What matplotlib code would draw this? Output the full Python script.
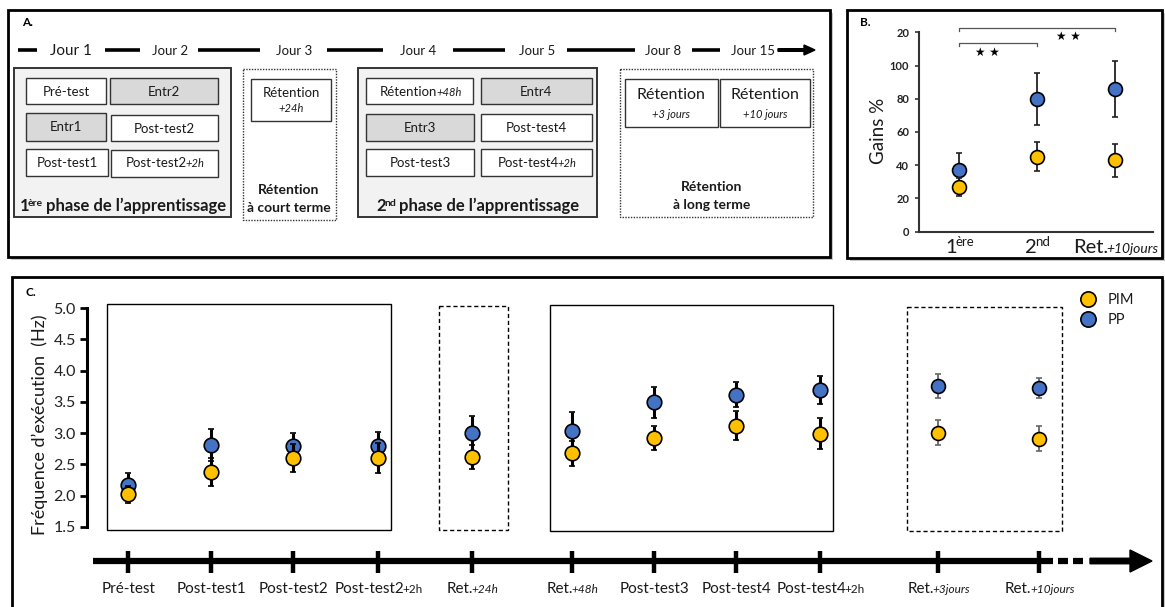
import matplotlib
matplotlib.use("Agg")
import matplotlib.pyplot as plt
from matplotlib.patches import Rectangle, FancyArrow

plt.rcParams['font.family'] = ['Lato', 'DejaVu Sans']

W, H = 1165, 607

# --- panel C data (fréquence d'exécution, Hz) ---
c_labels = ["Pré-test", "Post-test1", "Post-test2", "Post-test2", "Ret.", "Ret.",
            "Post-test3", "Post-test4", "Post-test4", "Ret.", "Ret."]
c_suffix = ["", "", "", "+2h", "+24h", "+48h", "", "", "+2h", "+3jours", "+10jours"]
pim_freq = [2.02, 2.38, 2.60, 2.61, 2.62, 2.68, 2.92, 3.12, 2.99, 3.01, 2.91]
pim_err = [0.13, 0.23, 0.22, 0.24, 0.19, 0.20, 0.19, 0.23, 0.25, 0.20, 0.20]
pp_freq = [2.17, 2.81, 2.80, 2.80, 3.00, 3.04, 3.49, 3.61, 3.69, 3.75, 3.72]
pp_err = [0.20, 0.25, 0.20, 0.22, 0.28, 0.29, 0.24, 0.20, 0.23, 0.19, 0.16]

# --- panel B data (gains %) ---
b_labels = ["1", "2", "Ret."]
b_sup = ["ère", "nd", ""]
b_sub = ["", "", "+10jours"]
b_pim = [27, 45, 43]
b_pim_err = [5.5, 8.7, 9.8]
b_pp = [37, 80, 86]
b_pp_err = [10.5, 15.6, 17.0]
b_yticklabels = ["0", "20", "40", "60", "80", "100", "20"]

# --- panel A text ---
jours = ["Jour 1", "Jour 2", "Jour 3", "Jour 4", "Jour 5", "Jour 8", "Jour 15"]

BLUE = "#4472C4"
YELLOW = "#FFC000"
TXT = "#1a1a1a"

fig = plt.figure(figsize=(W / 100, H / 100), dpi=100)
bg = fig.add_axes([0, 0, 1, 1])
bg.set_xlim(0, W)
bg.set_ylim(H, 0)
bg.axis("off")
renderer = fig.canvas.get_renderer()


def rich(x, y, parts, ha="center", tight=1.5):
    # parts: (text, size, style, weight, rise)
    texts = []
    for s, size, style, weight, rise in parts:
        t = bg.text(0, y - rise, s, fontsize=size, style=style, weight=weight,
                    ha="left", va="baseline", color=TXT)
        texts.append(t)
    widths = [t.get_window_extent(renderer).width - tight for t in texts]
    x0 = x - sum(widths) / 2 if ha == "center" else x
    for t, w in zip(texts, widths):
        t.set_x(x0)
        x0 += w


def box(x0, y0, x1, y1, fc="white", ec="#333333", lw=1.0, ls="-", z=1):
    bg.add_patch(Rectangle((x0, y0), x1 - x0, y1 - y0, fc=fc, ec=ec, lw=lw, ls=ls, zorder=z))


def frame(x0, y0, x1, y1):
    bg.add_patch(Rectangle((x0 + 3, y0 + 3), x1 - x0, y1 - y0, fc="#c8c8c8", ec="none", zorder=0))
    box(x0, y0, x1, y1, fc="white", ec="black", lw=2.0, z=0.5)


def label(x, y, s, size=9.5, **kw):
    bg.text(x, y, s, fontsize=size, ha="center", va="center", color=TXT, **kw)


# ================= panel A =================
frame(8, 10, 830, 257)
bg.text(22, 22, "A.", fontsize=8.5, weight="bold", va="center")

jour_x = [71, 170, 294, 418, 537, 663, 753]
dashes = [(18, 37), (105, 140), (198, 260), (327, 383), (453, 505), (567, 635), (692, 720)]
for (a, b) in dashes:
    bg.plot([a, b], [50, 50], color="black", lw=2.6, solid_capstyle="butt", zorder=2)
bg.add_patch(FancyArrow(778, 50, 37, 0, width=2.6, head_width=10, head_length=11,
                        length_includes_head=True, color="black", zorder=2))
for i, (j, x) in enumerate(zip(jours, jour_x)):
    label(x, 51, j, size=11 if i == 0 else 9.5)

# phase 1
box(14, 68, 231, 217, fc="#f2f2f2", ec="#333333", lw=1.4)
GR = "#d9d9d9"
box(26, 78, 106, 104)
box(110, 78, 218, 104, fc=GR)
box(26, 113, 106, 141, fc=GR)
box(111, 115, 218, 141)
box(26, 149, 108, 176)
box(111, 150, 218, 177)
label(66, 92, "Pré-test")
label(164, 92, "Entr2")
label(66, 127, "Entr1")
label(164, 129, "Post-test2")
label(67, 163, "Post-test1")
rich(164, 167, [("Post-test2", 9.5, "normal", "normal", 0), ("+2h", 8, "italic", "normal", 0)])
rich(122, 211, [("1", 12, "normal", "bold", 0), ("ère", 7.5, "normal", "bold", 5),
                (" phase de l’apprentissage", 12, "normal", "bold", 0)])

# short term retention
box(243, 69, 336, 220, fc="white", ec="#333333", lw=1.0, ls=(0, (1, 1)))
box(251, 79, 331, 121)
label(291, 93, "Rétention")
label(291, 109, "+24h", size=8, style="italic")
label(289, 190, "Rétention", size=10, weight="bold")
label(289, 208, "à court terme", size=10, weight="bold")

# phase 2
box(358, 68, 597, 217, fc="#f2f2f2", ec="#333333", lw=1.4)
box(366, 78, 473, 104)
box(481, 78, 592, 104, fc=GR)
box(366, 114, 474, 141, fc=GR)
box(481, 114, 592, 141)
box(366, 149, 474, 176)
box(481, 149, 592, 176)
rich(420, 96, [("Rétention", 9.5, "normal", "normal", 0), ("+48h", 8, "italic", "normal", 0)])
label(536, 92, "Entr4")
label(420, 128, "Entr3")
label(536, 128, "Post-test4")
label(420, 163, "Post-test3")
rich(536, 167, [("Post-test4", 9.5, "normal", "normal", 0), ("+2h", 8, "italic", "normal", 0)])
rich(477, 211, [("2", 12, "normal", "bold", 0), ("nd", 7.5, "normal", "bold", 5),
                (" phase de l’apprentissage", 12, "normal", "bold", 0)])

# long term retention
box(620, 69, 813, 217, fc="white", ec="#333333", lw=1.0, ls=(0, (1, 1)))
box(625, 79, 718, 127)
box(720, 79, 810, 127)
label(671, 95, "Rétention", size=11.5)
label(671, 114, "+3 jours", size=8, style="italic")
label(765, 95, "Rétention", size=11.5)
label(765, 114, "+10 jours", size=8, style="italic")
label(712, 187, "Rétention", size=10, weight="bold")
label(712, 205, "à long terme", size=10, weight="bold")

# ================= panel B =================
frame(847, 10, 1162, 258)
bg.text(860, 22, "B.", fontsize=8.5, weight="bold", va="center")
bg.text(878, 131, "Gains %", fontsize=13.5, rotation=90, ha="center", va="center", color=TXT)

ax_b = fig.add_axes([919 / W, (H - 231.7) / H, (1153 - 919) / W, (231.7 - 32.3) / H])
ax_b.patch.set_visible(False)
ax_b.set_xlim(-0.51, 2.49)
ax_b.set_ylim(0, 120)
for s in ["top", "right"]:
    ax_b.spines[s].set_visible(False)
for s in ["left", "bottom"]:
    ax_b.spines[s].set_linewidth(1.5)
    ax_b.spines[s].set_color("#333333")
ax_b.set_xticks([])
ax_b.set_yticks(range(0, 121, 20))
ax_b.set_yticklabels(b_yticklabels, fontsize=8, weight="bold", color="#222222")
ax_b.tick_params(axis="y", length=3, width=1.2, color="#333333", pad=4)
bx = list(range(len(b_labels)))
ax_b.errorbar(bx, b_pp, yerr=b_pp_err, fmt="o", ms=10, mfc=BLUE, mec="black", mew=1.2,
              ecolor="#222222", elinewidth=1.3, capsize=2.5, capthick=1.3, zorder=3)
ax_b.errorbar(bx, b_pim, yerr=b_pim_err, fmt="o", ms=10, mfc=YELLOW, mec="black", mew=1.2,
              ecolor="#222222", elinewidth=1.3, capsize=2.5, capthick=1.3, zorder=4)
# significance brackets
ax_b.plot([0, 0, 1, 1], [111.5, 113.5, 113.5, 111.5], color="#555555", lw=0.9, clip_on=False)
ax_b.plot([0, 0, 2, 2], [120.5, 122.5, 122.5, 120.5], color="#555555", lw=0.9, clip_on=False)
ax_b.text(0.37, 108, "★ ★", fontsize=8.5, ha="center", va="center", family="DejaVu Sans")
ax_b.text(1.4, 117.5, "★ ★", fontsize=8.5, ha="center", va="center", family="DejaVu Sans")
for i, lab in enumerate(b_labels):
    px = 959 + i * 78
    parts = [(lab, 14.5, "normal", "normal", 0)]
    if b_sup[i]:
        parts.append((b_sup[i], 9.5, "normal", "normal", 7))
    if b_sub[i]:
        parts.append((b_sub[i], 10, "italic", "normal", 0))
    rich(px, 253, parts)

# ================= panel C =================
frame(12, 277, 1162, 612)
bg.text(25, 292, "C.", fontsize=8.5, weight="bold", va="center")
bg.text(40, 425, "Fréquence d’exécution  (Hz)", fontsize=13, rotation=90,
        ha="center", va="center", color=TXT)

box(107, 304, 391, 530, fc="none", ec="black", lw=1.0)
box(439, 306, 508, 530, fc="none", ec="black", lw=1.0, ls=(0, (3, 2)))
box(550, 305, 833, 531, fc="none", ec="black", lw=1.0)
box(907, 307, 1062, 531, fc="none", ec="black", lw=1.0, ls=(0, (3, 2)))

c_pos = [128, 211, 293, 378, 472, 572, 654, 736, 820, 938, 1039]

# timeline
bg.plot([93, 1053], [561, 561], color="black", lw=4.5, solid_capstyle="butt", zorder=2)
bg.plot([1058, 1068], [561, 561], color="black", lw=4.5, solid_capstyle="butt", zorder=2)
bg.plot([1073, 1083], [561, 561], color="black", lw=4.5, solid_capstyle="butt", zorder=2)
bg.add_patch(FancyArrow(1090, 561, 62, 0, width=5.5, head_width=22, head_length=22,
                        length_includes_head=True, color="black", zorder=2))
for x in c_pos:
    bg.plot([x, x], [551, 573], color="black", lw=3.2, solid_capstyle="butt", zorder=3)
for x, lab, suf in zip(c_pos, c_labels, c_suffix):
    parts = [(lab, 11, "normal", "normal", 0)]
    if suf:
        italic = "normal" if suf == "+2h" else "italic"
        parts.append((suf, 8.5, italic, "normal", 0))
    rich(x, 593, parts)

ax_c = fig.add_axes([87 / W, (H - 527) / H, (1140 - 87) / W, (527 - 308) / H])
ax_c.patch.set_visible(False)
ax_c.set_xlim(87, 1140)
ax_c.set_ylim(1.5, 5.0)
for s in ["top", "right", "bottom"]:
    ax_c.spines[s].set_visible(False)
ax_c.spines["left"].set_linewidth(2.2)
ax_c.set_xticks([])
ax_c.set_yticks([1.5, 2.0, 2.5, 3.0, 3.5, 4.0, 4.5, 5.0])
ax_c.set_yticklabels(["1.5", "2.0", "2.5", "3.0", "3.5", "4.0", "4.5", "5.0"],
                     fontsize=11.5, color="#222222")
ax_c.tick_params(axis="y", length=5, width=2, pad=3)

n = 9
for pos, vals, errs, col, z in [(c_pos, pp_freq, pp_err, BLUE, 3), (c_pos, pim_freq, pim_err, YELLOW, 5)]:
    ax_c.errorbar(pos[:n], vals[:n], yerr=errs[:n], fmt="o", ms=10.5, mfc=col, mec="black",
                  mew=1.2, ecolor="black", elinewidth=2.2, capsize=2.5, capthick=2.2, zorder=z)
    ax_c.errorbar(pos[n:], vals[n:], yerr=errs[n:], fmt="o", ms=10, mfc=col, mec="black",
                  mew=1.2, ecolor="#666666", elinewidth=1.3, capsize=2.5, capthick=1.3, zorder=z)

# legend
bg.plot([1088], [299], "o", ms=11, mfc=YELLOW, mec="black", mew=1.2)
bg.plot([1088], [319], "o", ms=11, mfc=BLUE, mec="black", mew=1.2)
bg.text(1108, 300, "PIM", fontsize=10.5, va="center", color=TXT)
bg.text(1108, 320, "PP", fontsize=10.5, va="center", color=TXT)

fig.savefig("out.png", dpi=100)
